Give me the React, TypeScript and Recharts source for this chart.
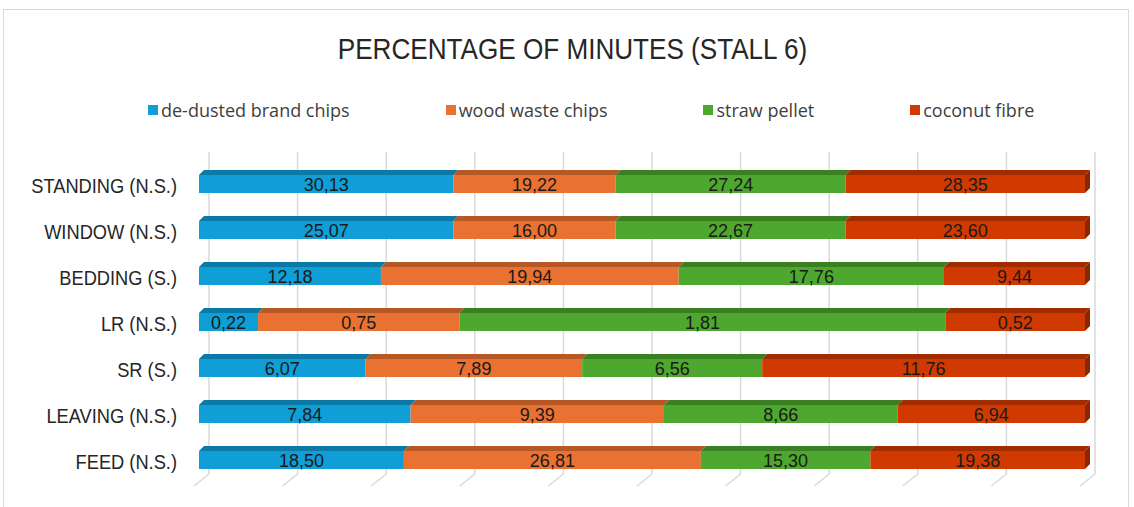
import { BarChart, Bar, XAxis, YAxis, CartesianGrid, LabelList } from 'recharts'

const CATEGORIES = [
  'STANDING (N.S.)',
  'WINDOW (N.S.)',
  'BEDDING (S.)',
  'LR (N.S.)',
  'SR (S.)',
  'LEAVING (N.S.)',
  'FEED (N.S.)',
]

const DEDUSTED = [30.13, 25.07, 12.18, 0.22, 6.07, 7.84, 18.5]
const WOOD_WASTE = [19.22, 16.0, 19.94, 0.75, 7.89, 9.39, 26.81]
const STRAW = [27.24, 22.67, 17.76, 1.81, 6.56, 8.66, 15.3]
const COCONUT = [28.35, 23.6, 9.44, 0.52, 11.76, 6.94, 19.38]

const X_TICKS = [0, 0.1, 0.2, 0.3, 0.4, 0.5, 0.6, 0.7, 0.8, 0.9, 1]

const SERIES = [
  { key: 'dedusted', name: 'de-dusted brand chips', color: '#0F9ED5', top: '#0B79A5' },
  { key: 'wood', name: 'wood waste chips', color: '#E97132', top: '#B55826' },
  { key: 'straw', name: 'straw pellet', color: '#4EA72E', top: '#3A8021' },
  { key: 'coconut', name: 'coconut fibre', color: '#D03A00', top: '#A02C00', side: '#8A2600' },
]

const data = CATEGORIES.map((name, i) => ({
  name,
  dedusted: DEDUSTED[i],
  wood: WOOD_WASTE[i],
  straw: STRAW[i],
  coconut: COCONUT[i],
}))

// depth of the 3D bar faces and the back wall
const BAR_DX = 5
const BAR_DY = 5
const WALL_DX = 10
const WALL_DY = 9

const fmt = (v: any) => Number(v).toFixed(2).replace('.', ',')

const Bar3D = (props: any) => {
  const { x, y, width, height, fill, topFill, sideFill } = props
  if (!width || width <= 0) return null
  return (
    <g>
      <rect x={x} y={y} width={width} height={height} fill={fill} />
      <polygon
        points={`${x},${y} ${x + BAR_DX},${y - BAR_DY} ${x + width + BAR_DX},${y - BAR_DY} ${x + width},${y}`}
        fill={topFill}
      />
      {sideFill && (
        <polygon
          points={`${x + width},${y} ${x + width + BAR_DX},${y - BAR_DY} ${x + width + BAR_DX},${y + height - BAR_DY} ${x + width},${y + height}`}
          fill={sideFill}
        />
      )}
    </g>
  )
}

const WallLine = (props: any) => {
  const { x1, y1, y2 } = props
  const bx = x1 + WALL_DX
  const by = y2 - WALL_DY
  return (
    <g>
      <line x1={bx} y1={y1 - WALL_DY} x2={bx} y2={by} stroke="#D9D9D9" strokeWidth={1.5} />
      <line x1={bx} y1={by} x2={bx - 15} y2={by + 12} stroke="#D9D9D9" strokeWidth={1.5} />
    </g>
  )
}

// narrow category labels: the regular face squeezed horizontally
const CategoryTick = (props: any) => {
  const { x, y, payload } = props
  return (
    <text
      transform={`translate(${x},${y + 2}) scale(0.87,1)`}
      textAnchor="end"
      dominantBaseline="central"
      fontSize={21}
      fill="#262626"
      fontFamily='"Liberation Sans", Arial, sans-serif'
    >
      {payload.value}
    </text>
  )
}

const Legend = () => (
  <div
    style={{
      position: 'absolute',
      left: 148,
      top: 98,
      display: 'flex',
      gap: 96,
      fontFamily: '"Open Sans", sans-serif',
      fontSize: 18,
      color: '#404040',
      whiteSpace: 'nowrap',
    }}
  >
    {SERIES.map((s) => (
      <div key={s.key} style={{ display: 'flex', alignItems: 'center', gap: 3 }}>
        <span style={{ width: 10, height: 10, background: s.color, display: 'inline-block' }} />
        <span>{s.name}</span>
      </div>
    ))}
  </div>
)

export default function App() {
  return (
    <div style={{ position: 'absolute', left: 0, top: 0, width: 1134, height: 507, background: '#fff', overflow: 'hidden' }}>
      <div
        style={{
          position: 'absolute',
          left: 3,
          top: 9,
          width: 1124,
          height: 520,
          border: '1px solid #D9D9D9',
        }}
      />
      <div
        style={{
          position: 'absolute',
          left: 0,
          width: 1145,
          top: 33,
          textAlign: 'center',
          fontFamily: '"Liberation Sans", Arial, sans-serif',
          fontSize: 29,
          color: '#262626',
          transform: 'scaleX(0.9)',
          transformOrigin: '572px 0',
        }}
      >
        PERCENTAGE OF MINUTES (STALL 6)
      </div>
      <Legend />
      <div style={{ position: 'absolute', left: 0, top: 0 }}>
        <BarChart
          width={1134}
          height={507}
          data={data}
          layout="vertical"
          stackOffset="expand"
          barSize={18}
          margin={{ top: 161, right: 49, bottom: 24, left: 0 }}
        >
          <CartesianGrid
            horizontal={false}
            vertical={(p: any) => <WallLine key={p.key} {...p} />}
            verticalCoordinatesGenerator={({ offset }: any) =>
              X_TICKS.map((t) => offset.left + t * offset.width)
            }
          />
          <XAxis type="number" domain={[0, 1]} ticks={X_TICKS} hide />
          <YAxis
            type="category"
            dataKey="name"
            width={199}
            axisLine={false}
            tickLine={false}
            tickMargin={16}
            tick={<CategoryTick />}
          />
          {SERIES.map((s) => (
            <Bar
              key={s.key}
              dataKey={s.key}
              name={s.name}
              stackId="a"
              fill={s.color}
              isAnimationActive={false}
              shape={(p: any) => <Bar3D {...p} topFill={s.top} sideFill={s.side} />}
            >
              <LabelList
                dataKey={s.key}
                position="center"
                formatter={fmt}
                fill="#1A1A1A"
                fontSize={18}
                fontFamily='"Liberation Sans", Arial, sans-serif'
                dy={1}
              />
            </Bar>
          ))}
        </BarChart>
      </div>
    </div>
  )
}
